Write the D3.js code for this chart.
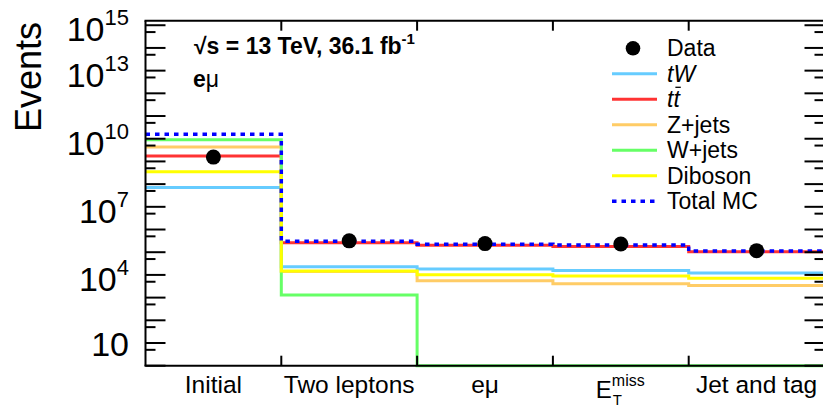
<!DOCTYPE html>
<html>
<head>
<meta charset="utf-8">
<script src="https://cdn.jsdelivr.net/npm/d3@7"></script>
<style>
  body { margin: 0; background: #fff; }
  text { font-family: "Liberation Sans", Arial, sans-serif; fill: #000; }
</style>
</head>
<body>
<svg id="chart" width="823" height="406"></svg>
<script>
// cut-flow bins
const cuts = ["Initial", "Two leptons", "eμ", "E_T^miss", "Jet and tag"];

// events per cut
const dataEvents = [1.55e9, 3.16e5, 2.4e5, 2.29e5, 1.17e5];
const tW = [7.1e7, 2.29e4, 1.82e4, 1.55e4, 1.2e4];
const ttbar = [1.74e9, 2.63e5, 2.04e5, 1.78e5, 1.05e5];
const zJets = [4.27e9, 1.41e4, 5.5e3, 4.07e3, 3.39e3];
const wJets = [9.12e9, 1.29e3, 0, 0, 0];
const diboson = [3.55e8, 1.48e4, 1.02e4, 8.9e3, 7.2e3];
const totalMC = [1.58e10, 3.02e5, 2.24e5, 2.09e5, 1.12e5];

const seriesNames = ["tW", "tt̄", "Z+jets", "W+jets", "Diboson", "Total MC"];
const seriesValues = [tW, ttbar, zJets, wJets, diboson, totalMC];
const seriesColors = ["#66ccff", "#ff3333", "#ffcc66", "#66ff66", "#ffff00", "#0000ff"];

// y tick labels: value, exponent text ("" = plain)
const yLabelValues = [1e15, 1e13, 1e10, 1e7, 1e4, 10];
const yLabelExps = ["15", "13", "10", "7", "4", ""];

const svg = d3.select("#chart");
const pLeft = 145.5, pRight = 824.5, pTop = 20.7, pBottom = 365.7;

const x = d3.scaleLinear().domain([0, cuts.length]).range([pLeft, pRight]);
const yMin = 1, yMax = Math.pow(10, 15.2);
const y = d3.scaleLog().domain([yMin, yMax]).range([pBottom, pTop]);

// histograms
const step = d3.line()
  .x((d) => x(d[0]))
  .y((d) => y(Math.max(yMin, d[1])))
  .curve(d3.curveStepAfter);

seriesValues.forEach((vals, i) => {
  const pts = vals.map((v, j) => [j, v]);
  pts.push([vals.length, vals[vals.length - 1]]);
  const isTotal = seriesNames[i] === "Total MC";
  svg.append("path")
    .attr("d", step(pts))
    .attr("fill", "none")
    .attr("stroke", seriesColors[i])
    .attr("stroke-width", isTotal ? 3.5 : 3)
    .attr("stroke-dasharray", isTotal ? "4.5,5" : null);
});

// data points
svg.append("g").selectAll("circle")
  .data(dataEvents)
  .enter()
  .append("circle")
  .attr("cx", (d, i) => x(i + 0.5))
  .attr("cy", (d) => y(d))
  .attr("r", 7.5)
  .attr("fill", "#000");

// frame
const frame = svg.append("g").attr("stroke", "#000").attr("stroke-width", 2);
frame.append("line").attr("x1", pLeft).attr("x2", pLeft).attr("y1", pTop).attr("y2", pBottom);
frame.append("line").attr("x1", pRight).attr("x2", pRight).attr("y1", pTop).attr("y2", pBottom);
frame.append("line").attr("x1", pLeft - 1).attr("x2", pRight).attr("y1", pBottom).attr("y2", pBottom);
frame.append("line").attr("x1", pLeft - 1).attr("x2", pRight).attr("y1", pTop).attr("y2", pTop);

// y ticks (major at decades, minor at 5x)
const majors = d3.range(0, 16).map((e) => Math.pow(10, e));
const minors = d3.range(0, 15).map((e) => 5 * Math.pow(10, e));
majors.forEach((v) => {
  frame.append("line").attr("x1", pLeft).attr("x2", pLeft + 20).attr("y1", y(v)).attr("y2", y(v));
  frame.append("line").attr("x1", pRight).attr("x2", pRight - 20).attr("y1", y(v)).attr("y2", y(v));
});
minors.forEach((v) => {
  frame.append("line").attr("x1", pLeft).attr("x2", pLeft + 10).attr("y1", y(v)).attr("y2", y(v));
  frame.append("line").attr("x1", pRight).attr("x2", pRight - 10).attr("y1", y(v)).attr("y2", y(v));
});

// x ticks at bin edges
d3.range(1, cuts.length).forEach((i) => {
  frame.append("line").attr("x1", x(i)).attr("x2", x(i)).attr("y1", pBottom).attr("y2", pBottom - 10);
  frame.append("line").attr("x1", x(i)).attr("x2", x(i)).attr("y1", pTop).attr("y2", pTop + 10);
});

// y labels
yLabelValues.forEach((v, i) => {
  const t = svg.append("text")
    .attr("x", 129)
    .attr("text-anchor", "end")
    .attr("font-size", "34px");
  if (yLabelExps[i]) {
    t.attr("y", y(v) + 16);
    t.append("tspan").text("10");
    t.append("tspan").attr("font-size", "22px").attr("dy", -16).text(yLabelExps[i]);
  } else {
    t.attr("y", y(v) + 13).text("10");
  }
});

svg.append("text")
  .attr("transform", "translate(41,22) rotate(-90)")
  .attr("text-anchor", "end")
  .attr("font-size", "36px")
  .text("Events");

// x labels
cuts.forEach((c, i) => {
  const cx = x(i + 0.5);
  const m = c.match(/^(\w)_(\w)\^(\w+)$/);
  if (m) {
    // E with stacked subscript / superscript
    const t = svg.append("text").attr("x", cx - 25).attr("y", 398).attr("font-size", "24px");
    t.append("tspan").text(m[1]);
    t.append("tspan").attr("x", cx - 8).attr("dy", 6.5).attr("font-size", "15px").text(m[2]);
    t.append("tspan").attr("x", cx - 9).attr("dy", -18.5).attr("font-size", "16px").text(m[3]);
  } else {
    svg.append("text").attr("x", cx).attr("y", 393).attr("text-anchor", "middle")
      .attr("font-size", "24.5px").text(c);
  }
});

// annotation
const ann = svg.append("text").attr("x", 194).attr("y", 54)
  .attr("font-size", "23px").attr("font-weight", "bold");
ann.append("tspan").text("√s = 13 TeV, 36.1 fb");
ann.append("tspan").attr("font-size", "15px").attr("dy", -10).text("-1");
const ch = svg.append("text").attr("x", 193).attr("y", 87)
  .attr("font-size", "23px").attr("font-weight", "bold");
ch.append("tspan").text("e");
ch.append("tspan").attr("font-weight", "normal").text("μ");

// legend
const legX = 612, legY = 48.3, legDy = 25.5;
const leg = svg.append("g");
leg.append("circle").attr("cx", 633).attr("cy", legY).attr("r", 7.3).attr("fill", "#000");
leg.append("text").attr("x", 667).attr("y", legY).attr("dy", "0.34em")
  .attr("font-size", "23px").text("Data");
seriesNames.forEach((name, i) => {
  const yy = legY + (i + 1) * legDy;
  const isTotal = name === "Total MC";
  leg.append("line")
    .attr("x1", legX).attr("x2", legX + 45)
    .attr("y1", yy).attr("y2", yy)
    .attr("stroke", seriesColors[i])
    .attr("stroke-width", isTotal ? 3.5 : 3)
    .attr("stroke-dasharray", isTotal ? "4.5,5" : null);
  const t = leg.append("text").attr("x", 667).attr("y", yy).attr("dy", "0.34em")
    .attr("font-size", "23px");
  if (name === "tt̄") {
    t.attr("font-style", "italic").text("tt");
    const b = t.node().getExtentOfChar(1);
    leg.append("line")
      .attr("x1", b.x + 2).attr("x2", b.x + b.width + 1)
      .attr("y1", yy - 12).attr("y2", yy - 12)
      .attr("stroke", "#000").attr("stroke-width", 1.3);
  } else if (name === "tW") {
    t.attr("font-style", "italic").text(name);
  } else {
    t.text(name);
  }
});
</script>
</body>
</html>
